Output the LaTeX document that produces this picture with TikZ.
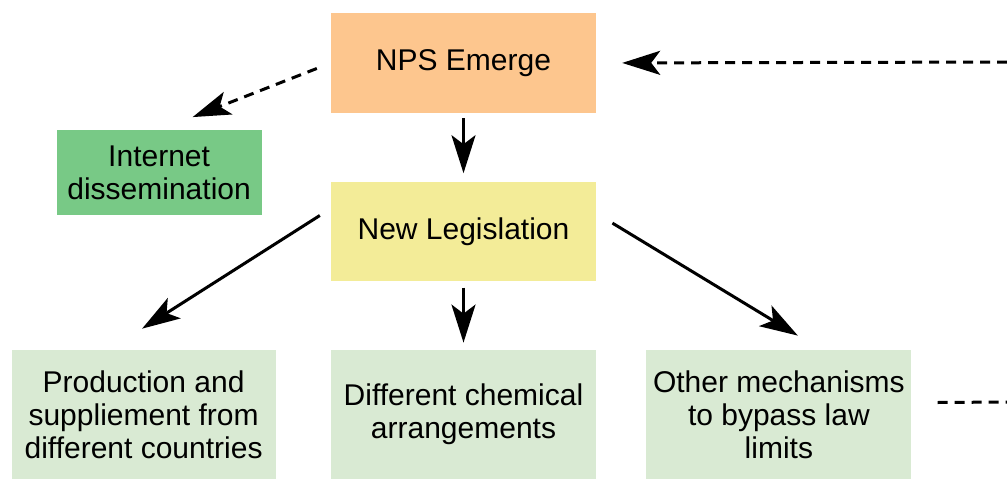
\documentclass[tikz,border=0pt]{standalone}
\usepackage{fontspec}
\setmainfont{Liberation Sans}
\usetikzlibrary{positioning,arrows.meta}

\definecolor{npsorange}{HTML}{FDC68E}
\definecolor{legyellow}{HTML}{F3EC98}
\definecolor{inetgreen}{HTML}{78C986}
\definecolor{palegreen}{HTML}{D9EAD3}

\begin{document}
\begin{tikzpicture}[x=1pt,y=-1pt,
  main/.style = {rectangle, minimum width=265pt, inner sep=0pt, align=center, font=\fontsize{30}{33}\selectfont},
  arr/.style = {-{Stealth[length=38pt,width=24pt,inset=9pt]}, line width=3pt},
  dasharr/.style = {arr, dash pattern=on 10pt off 7pt}]
\useasboundingbox (0,0) rectangle (1007,479);
\node[main, fill=npsorange, minimum height=100pt] (nps) at (463.5,63) {NPS Emerge};
\node[main, fill=legyellow, minimum height=99pt] (newleg) [below=69pt of nps] {New Legislation};
\node[main, fill=palegreen, minimum height=129pt] (chem) [below=68pt of newleg] {Different chemical\\arrangements};
\node[main, fill=palegreen, minimum height=129pt, minimum width=264pt] (prod) [left=55pt of chem] {Production and\\suppliement from\\different countries};
\node[main, fill=palegreen, minimum height=129pt] (other) [right=50pt of chem] {Other mechanisms\\to bypass law\\limits};
\node[main, fill=inetgreen, minimum width=205pt, minimum height=85pt] (inet) [below left=17pt and 69pt of nps] {Internet\\dissemination};
\coordinate (feed) at (1007,62);
\coordinate (onward) at (1007,402);
\draw[arr, shorten <=5pt, shorten >=9pt] (nps) -- (newleg);
\draw[arr, shorten <=6pt, shorten >=7pt] (newleg) -- (chem);
\draw[arr, shorten <=13pt, shorten >=39pt] (newleg.170) -- (prod.118);
\draw[arr, shorten <=19pt, shorten >=27pt] (newleg.8) -- (other.57);
\draw[dasharr, shorten <=15pt, shorten >=36pt] (nps.west) -- (inet.north);
\draw[dasharr, shorten >=26pt] (feed) -- (nps.east);
\draw[line width=3pt, dash pattern=on 10pt off 7pt, shorten <=26pt] (other.5) -- (onward);
\end{tikzpicture}
\end{document}
